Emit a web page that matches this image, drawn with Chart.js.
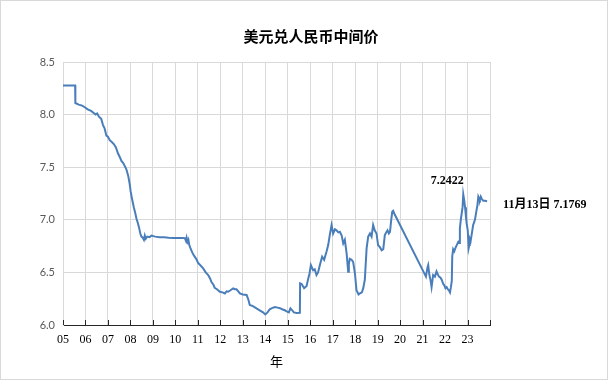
<!DOCTYPE html>
<html><head><meta charset="utf-8">
<script src="https://cdn.jsdelivr.net/npm/chart.js@4.4.0/dist/chart.umd.min.js"></script>
<style>html,body{margin:0;padding:0;background:#fff}#wrap{width:608px;height:380px;position:relative}</style>
</head><body><div id="wrap"><canvas id="c" width="608" height="380"></canvas></div>
<script>
const chartTitle = '美元兑人民币中间价';
const xAxisTitle = '年';
const yearLabels = ['05','06','07','08','09','10','11','12','13','14','15','16','17','18','19','20','21','22','23'];
const peakLabel = '7.2422';
const lastLabel = '11月13日 7.1769';

// decimal year of each observation
const dates = [
2005.00,2005.54,2005.55,2005.70,2005.85,2005.97,2006.10,2006.25,2006.34,2006.45,2006.52,2006.60,2006.70,2006.78,2006.85,2006.93,
2007.00,2007.08,2007.17,2007.26,2007.35,2007.45,2007.52,2007.60,2007.68,2007.75,2007.82,2007.90,2007.96,
2008.01,2008.08,2008.15,2008.22,2008.27,2008.33,2008.38,2008.44,2008.49,2008.55,2008.60,2008.64,2008.68,2008.75,2008.85,2008.94,
2009.10,2009.30,2009.50,2009.70,2009.90,2010.10,2010.30,2010.42,2010.47,2010.50,2010.54,2010.58,2010.62,2010.67,2010.75,2010.80,2010.86,2010.95,
2011.01,2011.10,2011.23,2011.35,2011.46,2011.55,2011.60,2011.70,2011.75,2011.85,2011.98,
2012.10,2012.20,2012.28,2012.35,2012.45,2012.57,2012.65,2012.72,2012.80,2012.87,
2013.00,2013.17,2013.25,2013.31,2013.45,2013.61,2013.75,2013.90,
2014.00,2014.10,2014.20,2014.30,2014.43,2014.55,2014.65,2014.75,2014.87,2014.95,
2015.05,2015.12,2015.20,2015.27,2015.40,2015.54,2015.55,2015.62,2015.73,2015.84,2015.90,2015.97,
2016.03,2016.13,2016.20,2016.28,2016.35,2016.43,2016.53,2016.62,2016.73,2016.80,2016.87,2016.95,
2017.02,2017.10,2017.17,2017.25,2017.32,2017.40,2017.47,2017.54,2017.62,2017.69,2017.72,2017.76,2017.84,2017.91,2017.99,
2018.06,2018.15,2018.21,2018.30,2018.36,2018.43,2018.51,2018.58,2018.66,2018.73,2018.80,2018.87,2018.95,
2019.02,2019.10,2019.18,2019.25,2019.32,2019.38,2019.44,2019.50,2019.55,2019.60,2019.65,2019.69,2019.74,
2021.15,2021.22,2021.25,2021.30,2021.36,2021.40,2021.47,2021.55,2021.62,2021.68,2021.73,2021.80,2021.85,2021.92,2021.96,
2022.02,2022.07,2022.12,2022.17,2022.22,2022.26,2022.30,2022.32,2022.36,2022.41,2022.46,2022.52,2022.59,2022.63,2022.66,2022.70,2022.74,2022.78,2022.81,2022.85,2022.89,2022.93,2022.96,
2023.01,2023.05,2023.08,2023.10,2023.14,2023.18,2023.25,2023.33,2023.40,2023.44,2023.48,2023.52,2023.55,2023.59,2023.63,2023.70,2023.78,2023.87
];
// USD/CNY central parity
const rates = [
8.2765,8.2765,8.11,8.095,8.085,8.07,8.05,8.035,8.02,8.00,8.01,7.98,7.96,7.90,7.87,7.80,
7.79,7.757,7.74,7.72,7.69,7.63,7.60,7.56,7.54,7.51,7.48,7.42,7.35,
7.27,7.19,7.12,7.06,7.01,6.97,6.93,6.87,6.84,6.83,6.81,6.85,6.82,6.84,6.835,6.85,
6.84,6.835,6.835,6.83,6.827,6.827,6.827,6.826,6.80,6.83,6.79,6.81,6.76,6.73,6.69,6.67,6.65,6.62,
6.59,6.57,6.54,6.50,6.475,6.44,6.41,6.38,6.354,6.34,6.316,
6.31,6.30,6.32,6.316,6.33,6.348,6.34,6.34,6.32,6.30,
6.29,6.285,6.24,6.19,6.18,6.158,6.14,6.12,
6.10,6.12,6.15,6.16,6.17,6.165,6.16,6.15,6.14,6.13,
6.12,6.158,6.14,6.12,6.115,6.116,6.396,6.39,6.35,6.37,6.43,6.49,
6.57,6.52,6.53,6.475,6.50,6.57,6.65,6.62,6.70,6.76,6.855,6.95,
6.87,6.91,6.90,6.88,6.886,6.85,6.776,6.81,6.68,6.506,6.58,6.63,6.62,6.60,6.49,
6.33,6.29,6.30,6.31,6.35,6.43,6.73,6.84,6.87,6.84,6.95,6.90,6.87,
6.76,6.74,6.71,6.72,6.855,6.88,6.90,6.87,6.886,6.99,7.076,7.085,7.06,
6.46,6.55,6.57,6.48,6.42,6.36,6.475,6.46,6.51,6.48,6.46,6.45,6.43,6.39,6.38,
6.35,6.36,6.34,6.33,6.31,6.36,6.42,6.65,6.72,6.70,6.73,6.76,6.79,6.78,6.92,7.00,7.06,7.12,7.2422,7.19,7.12,7.03,6.966,
6.90,6.73,6.76,6.82,6.80,6.855,6.95,7.00,7.09,7.14,7.22,7.20,7.19,7.22,7.20,7.18,7.18,7.1769
];

const points = dates.map((d,i)=>({x:d, y:rates[i]}));

const decor = {
  id:'decor',
  beforeDatasetsDraw(chart){
    const {ctx, chartArea:a, scales:{x}} = chart;
    ctx.save();
    ctx.strokeStyle = '#262626'; ctx.lineWidth = 1;
    ctx.beginPath();
    x.ticks.forEach((t,i)=>{
      const px = Math.round(x.getPixelForTick(i)) + 0.5;
      ctx.moveTo(px, a.bottom - 5); ctx.lineTo(px, a.bottom);
    });
    ctx.stroke();
    ctx.restore();
  },
  afterDatasetsDraw(chart){
    const {ctx, scales:{x,y}} = chart;
    ctx.save();
    // title
    ctx.fillStyle = '#000';
    ctx.font = 'bold 15px "Noto Sans CJK SC"';
    ctx.textAlign = 'center'; ctx.textBaseline = 'middle';
    ctx.fillText(chartTitle, 311, 36);
    // peak label (the labelled 2022 high)
    const pi = rates.indexOf(Number(peakLabel));
    const px = x.getPixelForValue(dates[pi]), py = y.getPixelForValue(rates[pi]);
    ctx.font = 'bold 12px "Liberation Serif", "Noto Sans CJK SC"';
    ctx.fillText(peakLabel, px - 16, py - 13);
    // last label
    const li = rates.length - 1;
    const lx = x.getPixelForValue(dates[li]), ly = y.getPixelForValue(rates[li]);
    ctx.textAlign = 'left';
    ctx.fillText(lastLabel, lx + 16, ly + 3.5);
    // outer border
    ctx.strokeStyle = '#d9d9d9'; ctx.lineWidth = 1;
    ctx.strokeRect(0.5, 0.5, 607, 379);
    ctx.restore();
  }
};

new Chart(document.getElementById('c'), {
  type:'line',
  data:{ datasets:[{ data: points, borderColor:'#4a7ebb', borderWidth:2, pointRadius:0, tension:0, fill:false }] },
  options:{
    responsive:false, animation:false, devicePixelRatio:1,
    layout:{ padding:{ left:0, right:118, top:62, bottom:0 } },
    plugins:{ legend:{display:false}, tooltip:{enabled:false}, title:{display:false} },
    scales:{
      x:{
        type:'linear', min:2005, max:2024,
        afterFit(s){ s.height = 55; },
        grid:{ color:'#d9d9d9', drawTicks:false },
        border:{ color:'#262626', width:1 },
        ticks:{ stepSize:1, autoSkip:false, maxRotation:0, padding:8, color:'#000',
          font:{ family:'"Liberation Serif"', size:12 },
          callback:(v)=>{ const s = yearLabels[Math.round(v)-2005]; return s === undefined ? '' : s; } },
        title:{ display:true, text:xAxisTitle, color:'#000', font:{ family:'"Noto Sans CJK SC"', size:13 }, padding:{top:4,bottom:11} }
      },
      y:{
        min:6, max:8.5,
        afterFit(s){ s.width = 63; },
        grid:{ color:'#d9d9d9', drawTicks:false },
        border:{ color:'#d9d9d9' },
        ticks:{ stepSize:0.5, padding:8, color:'#595959', font:{ family:'Lato', size:11 },
          callback:(v)=>Number(v).toFixed(1) }
      }
    }
  },
  plugins:[decor]
});
</script></body></html>
